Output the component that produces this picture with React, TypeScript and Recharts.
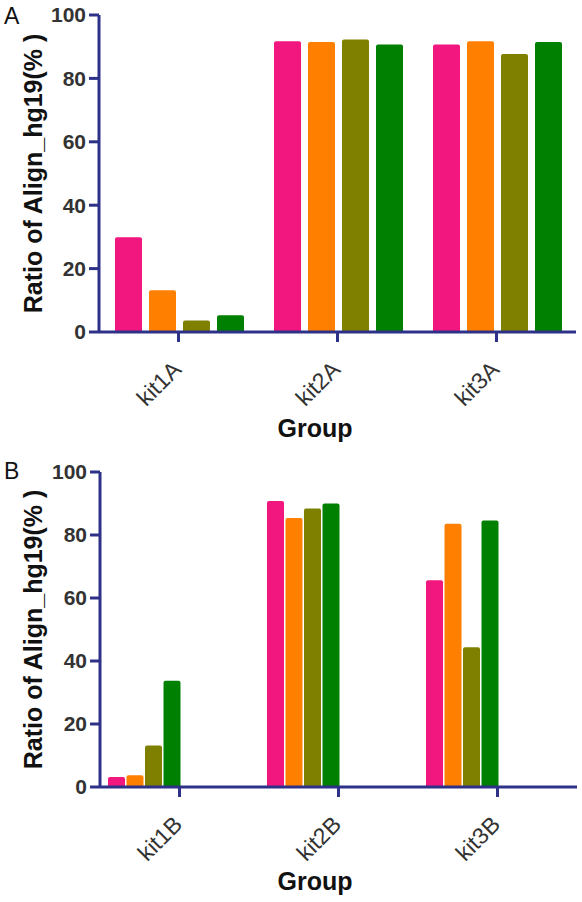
import { BarChart, Bar, XAxis, YAxis } from "recharts";

const groupsA = ["kit1A", "kit2A", "kit3A"];
const groupsB = ["kit1B", "kit2B", "kit3B"];
const yTicks = [0, 20, 40, 60, 80, 100];

const pinkA = [29.9, 91.7, 90.7];
const orangeA = [13.2, 91.5, 91.7];
const oliveA = [3.6, 92.3, 87.7];
const greenA = [5.3, 90.7, 91.5];

const pinkB = [3.2, 90.8, 65.6];
const orangeB = [3.7, 85.4, 83.6];
const oliveB = [13.2, 88.4, 44.4];
const greenB = [33.7, 90.0, 84.6];

const colors = ["#F2167F", "#FF8000", "#808000", "#008000"];
const AXIS = "#2E3188";
const FONT = "'Liberation Sans', Arial, sans-serif";

const rowsA = groupsA.map((g, i) => ({ group: g, s1: pinkA[i], s2: orangeA[i], s3: oliveA[i], s4: greenA[i] }));
const rowsB = groupsB.map((g, i) => ({ group: g, s1: pinkB[i], s2: orangeB[i], s3: oliveB[i], s4: greenB[i] }));

const XTick = ({ x, y, payload }: any) => (
  <text
    x={x + 4}
    y={y + 27}
    transform={`rotate(-45, ${x + 4}, ${y + 27})`}
    textAnchor="end"
    fontSize={23}
    fontFamily={FONT}
    fill="#333"
  >
    {payload.value}
  </text>
);

const YTitle = ({ viewBox }: any) => {
  const cx = viewBox.x + 33;
  const cy = viewBox.y + viewBox.height / 2;
  return (
    <text
      x={cx}
      y={cy}
      transform={`rotate(-90, ${cx}, ${cy})`}
      textAnchor="middle"
      dominantBaseline="central"
      fontSize={25}
      fontWeight="bold"
      fontFamily={FONT}
      fill="#111"
    >
      Ratio of Align_hg19(% )
    </text>
  );
};

const XTitle = ({ viewBox, baseline }: any) => (
  <text
    x={315}
    y={viewBox.y + baseline}
    textAnchor="middle"
    fontSize={25}
    fontWeight="bold"
    fontFamily={FONT}
    fill="#111"
  >
    Group
  </text>
);

function Panel({ rows, letter, top, bottom, right, yw, gap, catGap, slots, titleY, letterTop }: any) {
  return (
    <div style={{ position: "relative", width: 582, height: 451 }}>
      <BarChart
        width={582}
        height={451}
        data={rows}
        margin={{ top, right, bottom: 0, left: 0 }}
        barGap={gap}
        barCategoryGap={catGap}
      >
        <XAxis
          dataKey="group"
          height={bottom}
          axisLine={{ stroke: AXIS, strokeWidth: 3 }}
          tickLine={{ stroke: AXIS, strokeWidth: 3 }}
          tickSize={10}
          tick={<XTick />}
          interval={0}
          label={<XTitle baseline={titleY} />}
        />
        <YAxis
          width={yw}
          domain={[0, 100]}
          ticks={yTicks}
          axisLine={{ stroke: AXIS, strokeWidth: 3 }}
          tickLine={{ stroke: AXIS, strokeWidth: 3 }}
          tickSize={10}
          tickMargin={3}
          tick={{ fill: "#333", fontSize: 21, fontWeight: "bold", fontFamily: FONT }}
          label={<YTitle />}
        />
        {slots.map((k: string, i: number) => (
          <Bar key={k} dataKey={k} fill={colors[i % 4]} radius={[2, 2, 0, 0]} isAnimationActive={false} />
        ))}
      </BarChart>
      <div
        style={{
          position: "absolute",
          left: 4,
          top: letterTop,
          fontSize: 23,
          lineHeight: "23px",
          fontFamily: FONT,
          color: "#111",
        }}
      >
        {letter}
      </div>
    </div>
  );
}

export default function App() {
  return (
    <div style={{ position: "absolute", left: 0, top: 0, width: 582, height: 902, background: "#fff" }}>
      <Panel
        rows={rowsA}
        letter="A"
        top={15}
        bottom={119}
        right={6}
        yw={99}
        gap={7}
        catGap={16}
        slots={["s1", "s2", "s3", "s4"]}
        titleY={105}
        letterTop={5}
      />
      <Panel
        rows={rowsB}
        letter="B"
        top={21}
        bottom={115}
        right={5}
        yw={100}
        gap={1.5}
        catGap={8}
        slots={["s1", "s2", "s3", "s4", "s5", "s6", "s7", "s8"]}
        titleY={103}
        letterTop={9}
      />
    </div>
  );
}
